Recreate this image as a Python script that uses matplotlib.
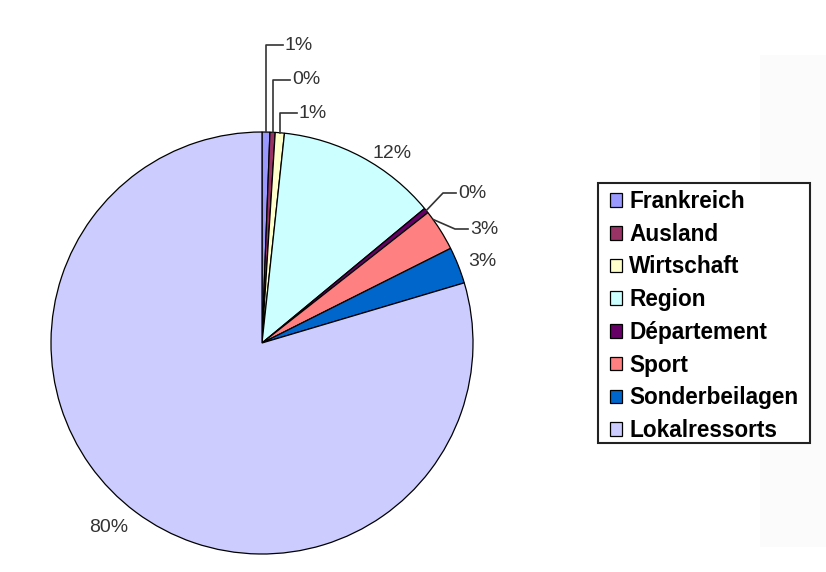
import numpy as np
import matplotlib.pyplot as plt
from matplotlib.patches import Rectangle

plt.rcParams['font.family'] = ['Liberation Sans', 'DejaVu Sans']

categories = ["Frankreich", "Ausland", "Wirtschaft", "Region", "Département",
              "Sport", "Sonderbeilagen", "Lokalressorts"]
shares = [0.6, 0.4, 0.7, 12.3, 0.4, 3.2, 2.8, 79.6]
colors = ["#9999FF", "#993366", "#FFFFCC", "#CCFFFF", "#660066",
          "#FF8080", "#0066CC", "#CCCCFF"]

W, H = 826, 572
fig = plt.figure(figsize=(W / 100, H / 100), dpi=100)
ax = fig.add_axes([0, 0, 1, 1])

cx, cy, r = 262, 343, 211

# faint grey strip at the right side of the canvas
ax.add_patch(Rectangle((760, 55), 70, 492, facecolor="#fbfbfb",
                       edgecolor="none", zorder=0))

# pie drawn clockwise from 12 o'clock (y axis is flipped, so counterclock here)
wedges, _ = ax.pie(shares, colors=colors, startangle=-90, counterclock=True,
                   center=(cx, cy), radius=r, frame=True,
                   wedgeprops=dict(edgecolor="black", linewidth=0.9))
ax.set_xlim(0, W)
ax.set_ylim(H, 0)
ax.set_aspect('equal')
ax.axis('off')

labels = [f"{v:.0f}%" for v in shares]


def edge_point(i, frac=0.5):
    start = sum(shares[:i])
    a = np.deg2rad((start + frac * shares[i]) / 100 * 360)
    return cx + r * np.sin(a), cy - r * np.cos(a)


txt = dict(fontsize=14, color="#333333", va="center", ha="left")
lead = dict(color="#333333", lw=1.2)

# small slices at the top: vertical leaders up to their labels
tops = [(0, 45, 283), (1, 80, 290), (2, 113, 297)]
for i, ty, hx in tops:
    x0, y0 = edge_point(i)
    ax.plot([x0, x0, hx], [y0, ty, ty], **lead)
    ax.text(hx + 2, ty, labels[i], **txt)

ax.text(372, 153, labels[3], **txt)

# Département and Sport with bent leaders
x0, y0 = edge_point(4)
ax.plot([x0, 443, 456], [y0, 193, 193], **lead)
ax.text(458, 193, labels[4], **txt)

x0, y0 = edge_point(5, 0.2)
ax.plot([x0, 455, 468], [y0, 229, 229], **lead)
ax.text(470, 229, labels[5], **txt)

ax.text(468, 261, labels[6], **txt)
ax.text(89, 528, labels[7], **txt)

# legend box
ax.add_patch(Rectangle((598, 183), 212, 260, facecolor="white",
                       edgecolor="#222222", linewidth=1.5, zorder=3))
leg = ax.legend(wedges, categories, loc="upper left",
                bbox_to_anchor=(610 / W, 1 - 190 / H),
                bbox_transform=fig.transFigure,
                prop=dict(family="Liberation Sans", weight="bold", size=16.3),
                frameon=False,
                handlelength=0.55, handleheight=0.55, handletextpad=0.3,
                labelspacing=0.43, borderpad=0, borderaxespad=0)
leg.set_zorder(4)

fig.savefig("out.png", dpi=100, facecolor="white")
